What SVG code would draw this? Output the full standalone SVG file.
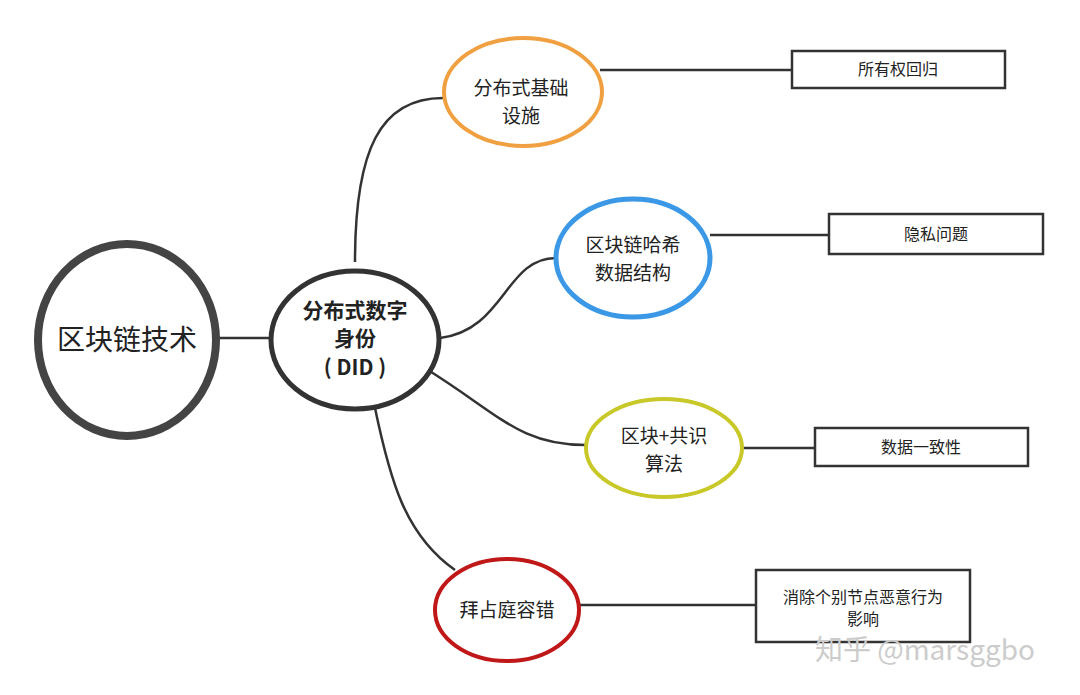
<svg xmlns="http://www.w3.org/2000/svg" width="1080" height="695" viewBox="0 0 1080 695">
<style>
text{font-family:"Noto Sans CJK SC","Noto Sans",sans-serif;fill:#222;text-anchor:middle}
.c{fill:#fff}
.r{fill:#fff;stroke:#333;stroke-width:2.5}
.l{fill:none;stroke:#333;stroke-width:2.5}
.t{font-size:19px}
.s{font-size:16px}
</style>
<rect width="1080" height="695" fill="#fff"/>
<g id="connectors">
<path class="l" d="M217,338 L270,338"/>
<path class="l" d="M355,262 C355,150 380,98 443,98"/>
<path class="l" d="M440,338 C505,330 505,258 556,258"/>
<path class="l" d="M428,370 C500,415 520,445 586,445"/>
<path class="l" d="M375,408 C390,480 405,535 455,570"/>
<path class="l" d="M600,70 L792,70"/>
<path class="l" d="M710,235 L829,235"/>
<path class="l" d="M742,448 L815,448"/>
<path class="l" d="M580,605 L756,605"/>
</g>
<g id="n_blockchain"><ellipse class="c" cx="127" cy="340" rx="89" ry="96" stroke="#444" stroke-width="8"/><text x="127" y="350" font-size="28">区块链技术</text></g>
<g id="n_did"><ellipse class="c" cx="355" cy="340" rx="84" ry="69" stroke="#333" stroke-width="5"/>
<text x="355" y="318" font-size="21" font-weight="bold">分布式数字</text><text x="355" y="346" font-size="21" font-weight="bold">身份</text><text x="355" y="375" font-size="21" font-weight="bold">( DID )</text></g>
<g id="n_infra"><ellipse class="c" cx="523" cy="92" rx="79" ry="54" stroke="#f0a040" stroke-width="4"/><text class="t" x="521" y="95">分布式基础</text><text class="t" x="521" y="123">设施</text></g>
<g id="n_hash"><ellipse class="c" cx="633" cy="258" rx="77" ry="59" stroke="#3a98e6" stroke-width="5"/><text class="t" x="633" y="252">区块链哈希</text><text class="t" x="633" y="280">数据结构</text></g>
<g id="n_consensus"><ellipse class="c" cx="664" cy="448" rx="78" ry="49" stroke="#c8c828" stroke-width="4"/><text class="t" x="664" y="443">区块+共识</text><text class="t" x="664" y="471">算法</text></g>
<g id="n_bft"><ellipse class="c" cx="507" cy="610" rx="72" ry="51" stroke="#c01818" stroke-width="4"/><text class="t" x="507" y="617">拜占庭容错</text></g>
<g id="r1"><rect class="r" x="792" y="51" width="213" height="37"/><text class="s" x="898" y="75">所有权回归</text></g>
<g id="r2"><rect class="r" x="829" y="214" width="214" height="40"/><text class="s" x="936" y="240">隐私问题</text></g>
<g id="r3"><rect class="r" x="815" y="428" width="213" height="38"/><text class="s" x="921" y="453">数据一致性</text></g>
<g id="r4"><rect class="r" x="756" y="570" width="214" height="72"/><text class="s" x="863" y="603">消除个别节点恶意行为</text><text class="s" x="863" y="625">影响</text></g>
<text x="925" y="660" font-size="28" style="fill:#ccc">知乎 @marsggbo</text>
</svg>
